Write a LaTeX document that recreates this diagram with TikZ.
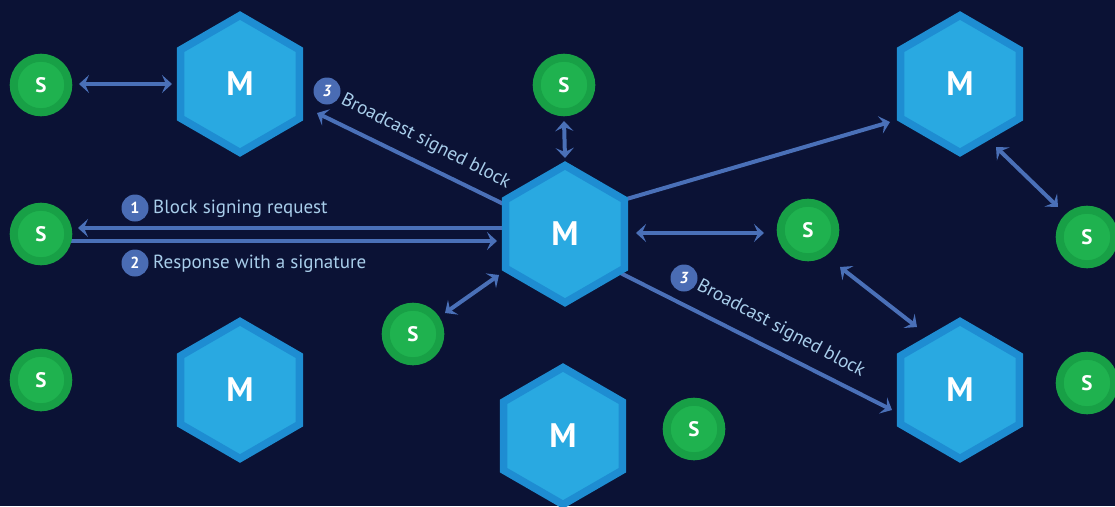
\documentclass[tikz,border=0pt]{standalone}
\usepackage{fontspec}
\setmainfont{PT Sans}
\usetikzlibrary{shapes.geometric,arrows.meta,calc}
\pgfdeclarelayer{bg}
\pgfsetlayers{bg,main}
\definecolor{bgc}{HTML}{0B1235}
\definecolor{arrc}{HTML}{4A70B8}
\definecolor{hexo}{HTML}{1E8DD2}
\definecolor{hexi}{HTML}{29A9E1}
\definecolor{sdark}{HTML}{18A046}
\definecolor{slight}{HTML}{1FB24F}
\definecolor{lbl}{HTML}{A8CDEA}
\definecolor{badgec}{HTML}{4A6CB4}
\tikzset{
  master/.style={regular polygon, regular polygon sides=6, regular polygon rotate=30,
    minimum size=137pt, inner sep=0pt, outer sep=0pt, draw=hexo, line width=7.5pt,
    fill=hexi, text=white, font=\bfseries\fontsize{34}{34}\selectfont},
  slave/.style={circle, minimum size=54.6pt, inner sep=0pt, outer sep=0pt, draw=sdark,
    line width=8pt, fill=slight, text=white, font=\bfseries\fontsize{21}{21}\selectfont},
  conn/.style={draw=arrc, line width=4pt},
  onetip/.style={-{Stealth[length=10pt,width=18pt,inset=4pt]}},
  twotips/.style={{Stealth[length=10pt,width=18pt,inset=4pt]}-{Stealth[length=10pt,width=18pt,inset=4pt]}},
  badge/.style={circle, fill=badgec, minimum size=27pt, inner sep=0pt, text=white,
    font=\bfseries\fontsize{16}{16}\selectfont},
  lab/.style={text=lbl, font=\fontsize{19}{19}\selectfont, inner sep=0pt},
}
\begin{document}
\begin{tikzpicture}[x=1pt,y=-1pt]
\useasboundingbox (0,0) rectangle (1115,506);
% masters
\node[master] (m1) at (240,84) {M};
\node[master] (m0) at (565,234) {M};
\node[master] (m2) at (960,84) {M};
\node[master] (m3) at (240,390) {M};
\node[master] (m4) at (563,436) {M};
\node[master] (m5) at (960,390) {M};
% slaves
\node[slave] (s1) at (41,85) {S};
\node[slave] (s2) at (41,234) {S};
\node[slave] (s3) at (564,85) {S};
\node[slave] (s4) at (808,230) {S};
\node[slave] (s5) at (413,334) {S};
\node[slave] (s6) at (694,429) {S};
\node[slave] (s7) at (1087,237) {S};
\node[slave] (s8) at (41,380) {S};
\node[slave] (s9) at (1087,383) {S};
% labels
\node[badge] (b1) at (135,208) {1};
\node[lab, anchor=west] (l1) at (153,209) {Block signing request};
\node[badge] (b2) at (135,263) {2};
\node[lab, anchor=west] (l2) at (153,264) {Response with a signature};
\node[badge, font=\bfseries\itshape\fontsize{16}{16}\selectfont] (b3) at (327,91) {3};
\node[lab, anchor=west, rotate=-27] (l3) at (342,99) {Broadcast signed block};
\node[badge, font=\bfseries\itshape\fontsize{16}{16}\selectfont] (b4) at (684,278) {3};
\node[lab, anchor=west, rotate=-28] (l4) at (698,285) {Broadcast signed block};
\begin{pgfonlayer}{bg}
\fill[bgc] (0,0) rectangle (1115,506);
\draw[conn,twotips] ($(s1)+(38,-1)$) -- ($(m1)+(-68,0)$);
\draw[conn,onetip] ($(m0)+(-60,-6)$) -- ($(s2)+(37,-6)$);
\draw[conn,onetip] ($(s2)+(25,7)$) -- ($(m0)+(-68,7)$);
\draw[conn,onetip] (m0) -- ($(m1)+(77,29)$);
\draw[conn,twotips] ($(s3)+(0,36)$) -- ($(m0)+(0,-76)$);
\draw[conn,onetip] ($(m0)+(0,-17)$) -- ($(m2)+(-70,38)$);
\draw[conn,twotips] ($(m0)+(71,-1)$) -- ($(s4)+(-44,3)$);
\draw[conn,twotips] ($(s5)+(32,-21)$) -- ($(m0)+(-66,41)$);
\draw[conn,onetip] ($(m0)+(0,11)$) -- ($(m5)+(-68,20)$);
\draw[conn,twotips] ($(s4)+(32,37)$) -- ($(m5)+(-43,-63)$);
\draw[conn,twotips] ($(m2)+(36,63)$) -- ($(s7)+(-29,-30)$);
\end{pgfonlayer}
\end{tikzpicture}
\end{document}
